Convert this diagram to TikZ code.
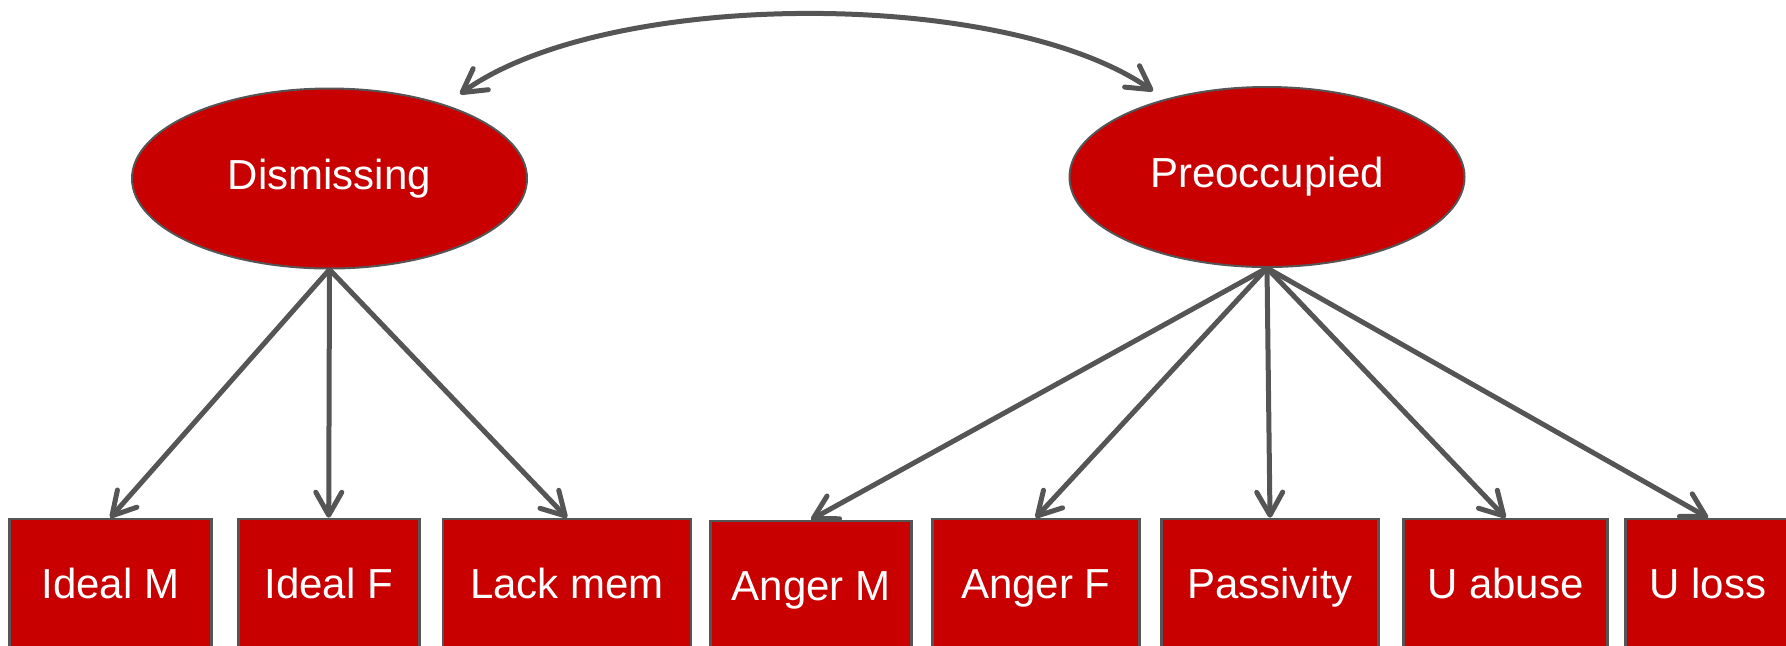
\documentclass[tikz,border=0pt]{standalone}
\usepackage{fontspec}
\setmainfont{Liberation Sans}
\usetikzlibrary{arrows.meta,shapes.geometric}
\definecolor{fillred}{RGB}{200,0,0}
\definecolor{edgegray}{RGB}{85,85,85}
\begin{document}
\begin{tikzpicture}[x=0.5pt,y=-0.5pt,
  latent/.style={ellipse, draw=edgegray, line width=1pt, fill=fillred, text=white,
    minimum width=197.5pt, minimum height=90pt, inner sep=0pt,
    font=\fontsize{21pt}{24pt}\selectfont},
  indicator/.style={rectangle, draw=edgegray, line width=1.3pt, fill=fillred, text=white,
    minimum height=64pt, text height=15pt, text depth=0pt, inner sep=0pt,
    font=\fontsize{21pt}{24pt}\selectfont},
  barb/.tip={Straight Barb[length=11.5pt,width=13pt,round]},
  loading/.style={draw=edgegray, line width=2.5pt, -barb},
  covar/.style={draw=edgegray, line width=2.5pt, barb-barb}]
\useasboundingbox (0,0) rectangle (1786,645);

\node[latent] (dis) at (329.5,178.5) {Dismissing};
\node[latent] (pre) at (1267,177) {Preoccupied};

\node[indicator, minimum width=101pt] (im) at (110.3,583) {Ideal M};
\node[indicator, minimum width=90.5pt] (if) at (328.7,583) {Ideal F};
\node[indicator, minimum width=124pt] (lm) at (567,583) {Lack mem};
\node[indicator, minimum width=100.5pt] (am) at (811,585) {Anger M};
\node[indicator, minimum width=103.5pt] (af) at (1035.7,583) {Anger F};
\node[indicator, minimum width=108.5pt] (pa) at (1270,583) {Passivity};
\node[indicator, minimum width=102pt] (ua) at (1505.5,583) {U abuse};
\node[indicator, minimum width=82.5pt] (ul) at (1708,583) {U loss};

\foreach \t in {im,if,lm}
  \draw[loading] (dis.south) -- (\t.north);
\foreach \t in {am,af,pa,ua,ul}
  \draw[loading] (pre.south) -- (\t.north);

\coordinate (ca) at ([shift={(130.5,-84.5)}]dis.center);
\coordinate (cb) at ([shift={(-114,-86)}]pre.center);
\draw[covar] (ca) .. controls (608,-12) and (1005,-12) .. (cb);
\end{tikzpicture}
\end{document}
